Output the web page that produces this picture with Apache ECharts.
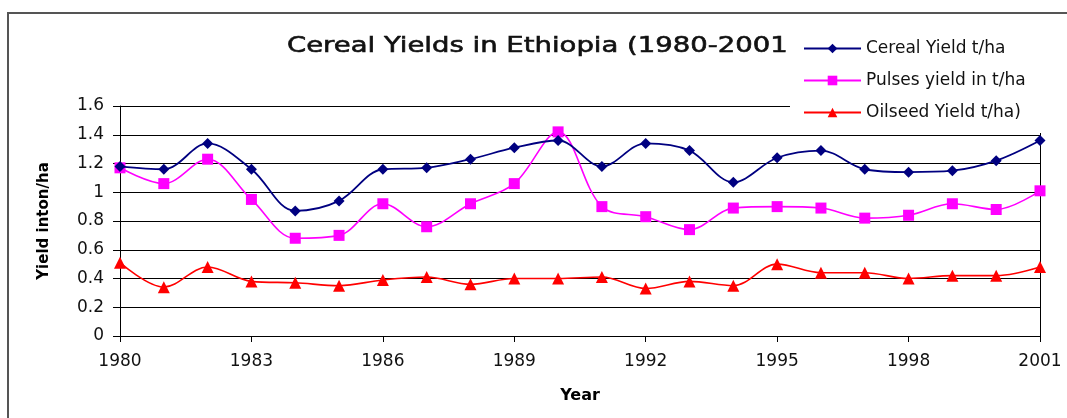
<!DOCTYPE html>
<html>
<head>
<meta charset="utf-8">
<script src="https://cdn.jsdelivr.net/npm/echarts@6/dist/echarts.min.js"></script>
<style>
html,body{margin:0;padding:0;background:#fff;}
#chart{width:1067px;height:418px;}
</style>
</head>
<body>
<div id="chart"></div>
<script>
const years = [1980,1981,1982,1983,1984,1985,1986,1987,1988,1989,1990,1991,1992,1993,1994,1995,1996,1997,1998,1999,2000,2001];
const cereal = [1.18,1.16,1.34,1.16,0.87,0.94,1.16,1.17,1.23,1.31,1.36,1.18,1.34,1.29,1.07,1.24,1.29,1.16,1.14,1.15,1.22,1.36];
const pulses = [1.17,1.06,1.23,0.95,0.68,0.70,0.92,0.76,0.92,1.06,1.42,0.90,0.83,0.74,0.89,0.90,0.89,0.82,0.84,0.92,0.88,1.01];
const oilseed = [0.51,0.34,0.48,0.38,0.37,0.35,0.39,0.41,0.36,0.40,0.40,0.41,0.33,0.38,0.35,0.50,0.44,0.44,0.40,0.42,0.42,0.48];
const seriesNames = ['Cereal Yield t/ha','Pulses yield in t/ha','Oilseed Yield t/ha)'];
const titleText = 'Cereal Yields in Ethiopia (1980-2001';
const yAxisName = 'Yield inton/ha';
const xAxisName = 'Year';

const pair = arr => years.map((y,i)=>[y,arr[i]]);
const font = 'DejaVu Sans, sans-serif';

const chart = echarts.init(document.getElementById('chart'));
chart.setOption({
  animation:false,
  backgroundColor:'#fff',
  graphic:[{
    type:'rect', z:-10, silent:true,
    shape:{x:8,y:13,width:1200,height:600},
    style:{fill:null,stroke:'#555',lineWidth:2}
  },{
    type:'text', z:10, silent:true,
    x:287, y:46, scaleX:1.25,
    style:{text:titleText,font:'22px "DejaVu Sans", sans-serif',fill:'#111',
      stroke:'#111',lineWidth:0.6,
      textAlign:'left',textVerticalAlign:'middle'}
  }],
  legend:{
    orient:'vertical', left:790, top:34,
    padding:[6,30,12,13],
    backgroundColor:'#fff',
    itemWidth:57, itemHeight:12, itemGap:15,
    textStyle:{fontFamily:font,fontSize:17,color:'#111'},
    data:seriesNames
  },
  grid:{left:120,right:27,top:106,bottom:82},
  xAxis:{
    type:'value', min:1980, max:2001, interval:3,
    name:xAxisName, nameLocation:'middle', nameGap:52,
    nameTextStyle:{fontFamily:font,fontSize:16,fontWeight:'bold',color:'#000'},
    axisLine:{show:true,lineStyle:{color:'#000',width:1}},
    axisTick:{show:true,length:6,lineStyle:{color:'#000'}},
    axisLabel:{fontFamily:font,fontSize:17,color:'#111',margin:17,formatter:v=>String(v)},
    splitLine:{show:false}
  },
  yAxis:[{
    type:'value', min:0, max:1.6, interval:0.2,
    name:yAxisName, nameLocation:'middle', nameGap:68, nameRotate:90,
    nameTextStyle:{fontFamily:font,fontSize:15,fontWeight:'bold',color:'#000'},
    axisLine:{show:true,lineStyle:{color:'#000',width:1}},
    axisTick:{show:true,length:7,lineStyle:{color:'#000'}},
    axisLabel:{fontFamily:font,fontSize:17,color:'#111',margin:16,
      formatter:v=>{const r=Math.round(v*10)/10; return String(r);}},
    splitLine:{show:true,lineStyle:{color:'#000',width:1}}
  },{
    type:'value', min:0, max:1.6, interval:0.2, position:'right',
    axisLine:{show:true,lineStyle:{color:'#000',width:1}},
    axisTick:{show:false}, axisLabel:{show:false}, splitLine:{show:false}
  }],
  series:[
    {name:seriesNames[0],type:'line',smooth:0.35,data:pair(cereal),
     symbol:'diamond',symbolSize:11,
     itemStyle:{color:'#000080'},lineStyle:{color:'#000080',width:1.8},z:4},
    {name:seriesNames[1],type:'line',smooth:0.35,data:pair(pulses),
     symbol:'rect',symbolSize:11,
     itemStyle:{color:'#ff00ff'},lineStyle:{color:'#ff00ff',width:1.6},z:3},
    {name:seriesNames[2],type:'line',smooth:0.35,data:pair(oilseed),
     symbol:'triangle',symbolSize:12,
     itemStyle:{color:'#ff0000'},lineStyle:{color:'#ff0000',width:1.6},z:2}
  ]
});
</script>
</body>
</html>
